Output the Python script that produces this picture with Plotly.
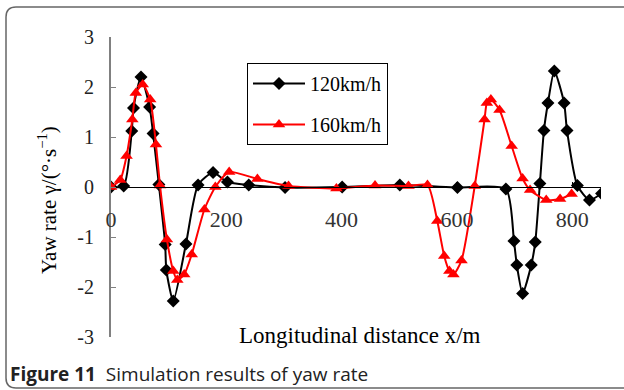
import plotly.graph_objects as go

# ---- data ----
X_120 = [0, 22, 36, 39, 52, 67, 73, 83, 94, 96, 108, 130, 151, 177, 202, 239, 302, 401, 501, 601,
         685, 699, 704, 714, 729, 736, 744, 751, 758, 769, 786, 791, 809, 830, 851]
Y_120 = [0, 0.02, 1.12, 1.58, 2.2, 1.6, 1.07, 0.05, -1.15, -1.66, -2.28, -1.14, 0.04, 0.29, 0.1, 0.04,
         -0.01, 0.0, 0.04, -0.01, -0.04, -1.08, -1.56, -2.13, -1.56, -1.1, 0.07, 1.13, 1.68, 2.32,
         1.68, 1.13, 0.03, -0.26, -0.13]

X_160 = [0, 16, 27, 37, 43, 55, 68, 78, 85, 97, 108, 115, 127, 140, 162, 181, 205, 254, 308, 391,
         458, 516, 549, 566, 578, 587, 594, 608, 631, 648, 652, 659, 674, 695, 714, 727, 755, 779, 799]
Y_160 = [0, 0.14, 0.62, 1.35, 1.88, 2.05, 1.75, 0.85, 0.03, -1.05, -1.68, -1.86, -1.75, -1.35, -0.45,
         0.0, 0.3, 0.16, 0.02, -0.03, 0.03, 0.02, 0.04, -0.68, -1.38, -1.68, -1.75, -1.47, 0.02, 1.35,
         1.68, 1.75, 1.54, 0.82, 0.17, -0.06, -0.26, -0.24, -0.14]

SERIES_NAMES = ["120km/h", "160km/h"]
X_TICKS = [0, 200, 400, 600, 800]
X_TICK_LABELS = ["0", "200", "400", "600", "800"]
Y_TICKS = [-3, -2, -1, 0, 1, 2, 3]
Y_TICK_LABELS = ["-3", "-2", "-1", "0", "1", "2", "3"]

X_TITLE = "Longitudinal distance x/m"
Y_TITLE = "Yaw rate γ/(°·s<sup>−1</sup>)"
CAPTION = "<b>Figure 11</b>\u00a0\u00a0Simulation results of yaw rate"

SERIF = "Liberation Serif, Times New Roman, serif"

# layout geometry in pixels
W, H = 624, 390
L, R, T, B = 111, 23, 37, 53
PW, PH = W - L - R, H - T - B


def px(x):
    return (x - L) / PW


def py(y):
    return (H - B - y) / PH


fig = go.Figure()
fig.add_trace(go.Scatter(
    x=X_120, y=Y_120, name=SERIES_NAMES[0], mode="lines+markers", legendgroup="a",
    line=dict(color="black", width=2, shape="spline", smoothing=0.6),
    marker=dict(symbol="diamond", size=10, color="black"),
))
fig.add_trace(go.Scatter(
    x=X_160, y=Y_160, name=SERIES_NAMES[1], mode="lines+markers", legendgroup="b",
    line=dict(color="#ff0000", width=2, shape="spline", smoothing=0.6),
    marker=dict(symbol="triangle-up", size=11, color="#ff0000"),
))

# rounded frame, open on the right side
x0, x1, y0, y1, r = 6, 640, 7, 388, 10
path = (f"M {px(x1)},{py(y0)} L {px(x0 + r)},{py(y0)} Q {px(x0)},{py(y0)} {px(x0)},{py(y0 + r)} "
        f"L {px(x0)},{py(y1 - r)} Q {px(x0)},{py(y1)} {px(x0 + r)},{py(y1)} L {px(x1)},{py(y1)}")
fig.add_shape(type="path", path=path, xref="paper", yref="paper",
              line=dict(color="#666666", width=1.5), layer="below")

fig.add_annotation(text=X_TITLE, x=px(360), y=py(335), xref="paper", yref="paper",
                   showarrow=False, xanchor="center", yanchor="middle",
                   font=dict(family=SERIF, size=23, color="black"))
fig.add_annotation(text=Y_TITLE, x=px(47), y=py(200), xref="paper", yref="paper",
                   showarrow=False, textangle=-90, xanchor="center", yanchor="middle",
                   font=dict(family=SERIF, size=21, color="black"))
fig.add_annotation(text=CAPTION, x=px(8), y=py(374), xref="paper", yref="paper",
                   showarrow=False, xanchor="left", yanchor="middle",
                   font=dict(family="Open Sans, sans-serif", size=19, color="#222222"))

fig.update_layout(
    width=W, height=H,
    margin=dict(l=L, r=R, t=T, b=B, pad=0),
    paper_bgcolor="white", plot_bgcolor="white",
    showlegend=True,
    legend=dict(x=px(247), y=py(63), xanchor="left", yanchor="top",
                bordercolor="black", borderwidth=1, bgcolor="white",
                font=dict(family=SERIF, size=20, color="black"),
                traceorder="grouped", tracegroupgap=12, itemwidth=52),
    xaxis=dict(range=[0, 850], anchor="free", position=0.5, tickvals=X_TICKS, ticktext=X_TICK_LABELS,
               showgrid=False, zeroline=False, showline=True, linecolor="black", linewidth=1,
               ticks="inside", ticklen=5, tickcolor="black", ticklabelstandoff=13,
               tickfont=dict(family=SERIF, size=22, color="#333333")),
    yaxis=dict(range=[-3, 3], tickvals=Y_TICKS, ticktext=Y_TICK_LABELS,
               showgrid=False, zeroline=False, showline=True, linecolor="#808080", linewidth=2,
               ticks="inside", ticklen=5, tickcolor="#808080", ticklabelstandoff=11,
               tickfont=dict(family=SERIF, size=20, color="#222222")),
)

fig.write_html("out.html")
